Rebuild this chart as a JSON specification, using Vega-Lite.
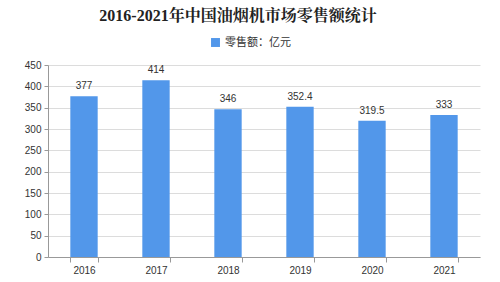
{
  "$schema": "https://vega.github.io/schema/vega-lite/v6.json",
  "width": 432,
  "height": 192,
  "autosize": {"type": "none"},
  "padding": {"left": 48, "top": 65, "right": 20, "bottom": 25},
  "background": "white",
  "title": {
    "text": "2016-2021年中国油烟机市场零售额统计",
    "font": "'Liberation Serif', 'Noto Serif CJK SC', 'Noto Sans CJK SC'",
    "fontSize": 16,
    "fontWeight": "bold",
    "color": "#222222",
    "anchor": "middle",
    "dx": -26,
    "offset": 13
  },
  "data": {
    "values": [
      {"year": "2016", "value": 377, "label": "377", "series": "零售额：亿元"},
      {"year": "2017", "value": 414, "label": "414", "series": "零售额：亿元"},
      {"year": "2018", "value": 346, "label": "346", "series": "零售额：亿元"},
      {"year": "2019", "value": 352.4, "label": "352.4", "series": "零售额：亿元"},
      {"year": "2020", "value": 319.5, "label": "319.5", "series": "零售额：亿元"},
      {"year": "2021", "value": 333, "label": "333", "series": "零售额：亿元"}
    ]
  },
  "encoding": {
    "x": {
      "field": "year",
      "type": "nominal",
      "title": null,
      "scale": {"paddingInner": 0.62, "paddingOuter": 0.31},
      "axis": {
        "labelAngle": 0,
        "labelFont": "Liberation Sans",
        "labelFontSize": 10,
        "labelColor": "#333333",
        "domainColor": "#999999",
        "tickColor": "#999999",
        "tickBand": "extent",
        "tickSize": 5,
        "labelPadding": 3
      }
    },
    "y": {
      "field": "value",
      "type": "quantitative",
      "title": null,
      "scale": {"domain": [0, 450]},
      "axis": {
        "values": [0, 50, 100, 150, 200, 250, 300, 350, 400, 450],
        "labelFont": "Liberation Sans",
        "labelFontSize": 10,
        "labelColor": "#333333",
        "domainColor": "#999999",
        "tickColor": "#999999",
        "tickSize": 4,
        "gridColor": "#dcdcdc",
        "labelPadding": 3
      }
    }
  },
  "layer": [
    {
      "mark": {"type": "bar", "color": "#5297ea"},
      "encoding": {
        "color": {
          "field": "series",
          "type": "nominal",
          "scale": {"range": ["#5297ea"]},
          "legend": {
            "title": null,
            "orient": "none",
            "legendX": 162,
            "legendY": -28,
            "symbolType": "square",
            "symbolSize": 80,
            "labelFont": "'Noto Sans CJK SC'",
            "labelFontSize": 11,
            "labelColor": "#333333",
            "symbolStrokeWidth": 0
          }
        }
      }
    },
    {
      "mark": {"type": "text", "dy": -10, "font": "Liberation Sans", "fontSize": 10, "color": "#333333"},
      "encoding": {"text": {"field": "label"}}
    }
  ],
  "config": {"view": {"stroke": null}}
}
